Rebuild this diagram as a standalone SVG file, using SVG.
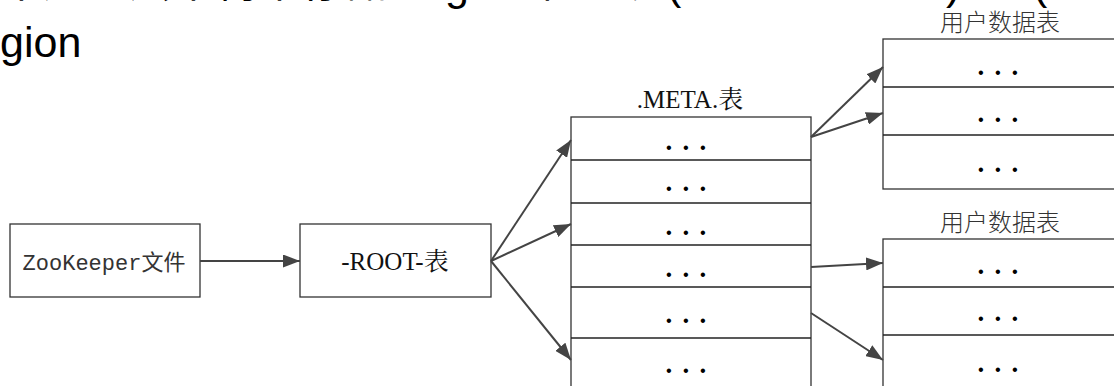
<svg xmlns="http://www.w3.org/2000/svg" width="1114" height="386" viewBox="0 0 1114 386">
<style>
.big{font-family:"Liberation Sans","Noto Sans CJK SC",sans-serif;font-size:43px;fill:#000}
.box{fill:#fff;stroke:#333;stroke-width:1.3}
.div{stroke:#222;stroke-width:1.6}
.serif{font-family:"Liberation Serif","Noto Serif CJK SC","Noto Sans CJK SC",serif;font-size:25px;fill:#111;text-anchor:middle}
.mono{font-family:"Liberation Mono","Noto Sans CJK SC",monospace;font-size:22px;fill:#333;text-anchor:middle}
.lbl{font-family:"Noto Sans CJK SC",sans-serif;font-size:24px;fill:#333;text-anchor:middle;font-weight:300}
.dots{font-family:"Liberation Serif",serif;font-size:27px;font-weight:bold;fill:#000;letter-spacing:10.3px;text-anchor:middle}
.con{stroke:#444;stroke-width:2;fill:none;marker-end:url(#ah)}
</style>
<defs>
<marker id="ah" markerUnits="userSpaceOnUse" markerWidth="17" markerHeight="13" viewBox="0 0 17 13" refX="17" refY="6.5" orient="auto">
<path d="M0,0 L17,6.5 L0,13 Z" fill="#444"/>
</marker>
</defs>
<rect width="1114" height="386" fill="#fff"/>
<g id="heading">
<text class="big" y="0"><tspan x="0" y="-3">采用三层架构来存储</tspan><tspan x="390" y="0">Region</tspan><tspan x="538" y="-3">位置表</tspan><tspan x="667" y="-1">(</tspan><tspan x="700">-ROOT-.META.</tspan><tspan x="946">)</tspan><tspan x="1033">(</tspan></text>
<text class="big" x="0" y="57">gion</text>
</g>
<g id="zookeeper">
<rect class="box" x="10" y="224" width="190" height="73"/>
<text class="mono" x="104" y="270">ZooKeeper文件</text>
</g>
<g id="root">
<rect class="box" x="300" y="224" width="191" height="73"/>
<text class="serif" x="395" y="270">-ROOT-表</text>
</g>
<g id="meta">
<text class="serif" x="690" y="108">.META.表</text>
<rect class="box" x="571" y="117" width="240" height="290"/>
<line class="div" x1="571" y1="160" x2="811" y2="160"/>
<line class="div" x1="571" y1="203" x2="811" y2="203"/>
<line class="div" x1="571" y1="245" x2="811" y2="245"/>
<line class="div" x1="571" y1="287" x2="811" y2="287"/>
<line class="div" x1="571" y1="338" x2="811" y2="338"/>
<text class="dots" x="691" y="150">...</text>
<text class="dots" x="691" y="191">...</text>
<text class="dots" x="691" y="235">...</text>
<text class="dots" x="691" y="277">...</text>
<text class="dots" x="691" y="323">...</text>
<text class="dots" x="691" y="373">...</text>
</g>
<g id="user1">
<text class="lbl" x="1000" y="31">用户数据表</text>
<rect class="box" x="883" y="39" width="240" height="150"/>
<line class="div" x1="883" y1="87" x2="1114" y2="87"/>
<line class="div" x1="883" y1="135" x2="1114" y2="135"/>
<text class="dots" x="1003" y="75">...</text>
<text class="dots" x="1003" y="122">...</text>
<text class="dots" x="1003" y="172">...</text>
</g>
<g id="user2">
<text class="lbl" x="1000" y="231">用户数据表</text>
<rect class="box" x="883" y="239" width="240" height="170"/>
<line class="div" x1="883" y1="287" x2="1114" y2="287"/>
<line class="div" x1="883" y1="335" x2="1114" y2="335"/>
<text class="dots" x="1003" y="274">...</text>
<text class="dots" x="1003" y="321">...</text>
<text class="dots" x="1003" y="372">...</text>
</g>
<g id="connectors">
<line class="con" x1="200" y1="261" x2="300" y2="261"/>
<line class="con" x1="491" y1="261" x2="571" y2="140"/>
<line class="con" x1="491" y1="261" x2="571" y2="224"/>
<line class="con" x1="491" y1="261" x2="571" y2="360"/>
<line class="con" x1="811" y1="137" x2="883" y2="67"/>
<line class="con" x1="811" y1="137" x2="883" y2="113"/>
<line class="con" x1="811" y1="267" x2="883" y2="263"/>
<line class="con" x1="811" y1="313" x2="883" y2="360"/>
</g>
</svg>
